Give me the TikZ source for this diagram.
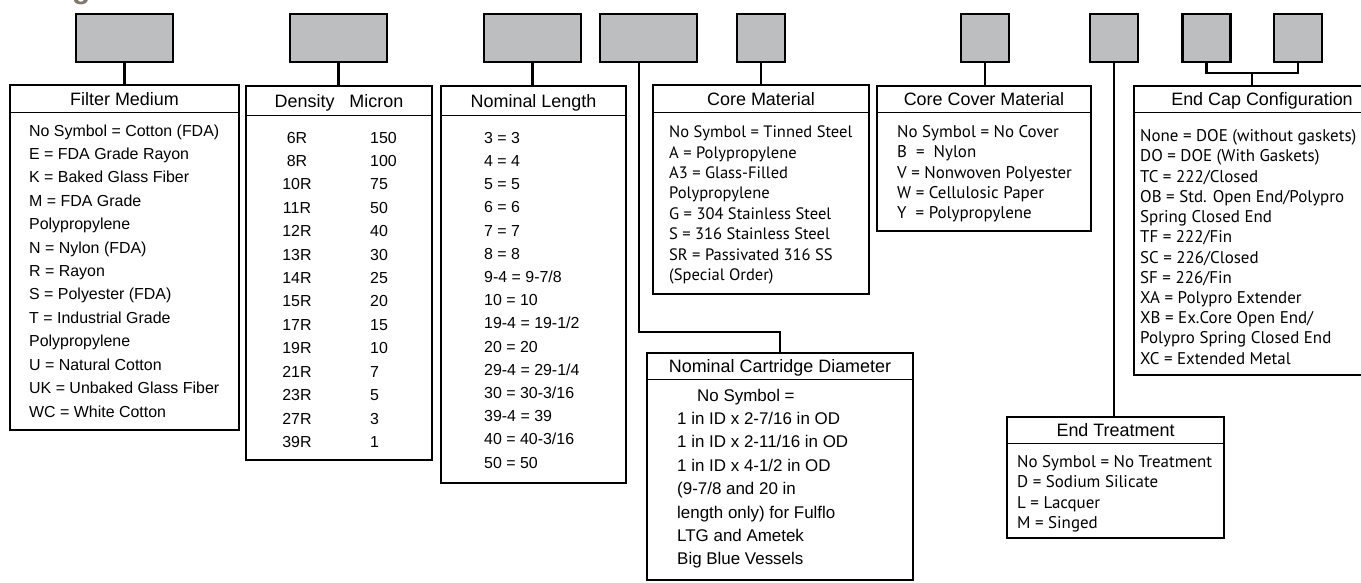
\documentclass[tikz,border=0pt]{standalone}
\usepackage{fontspec}
\setmainfont{Liberation Sans}
\newfontfamily\myriad{PT Sans}
\usetikzlibrary{calc}
\definecolor{codegray}{RGB}{188,190,192}
\definecolor{titlegray}{RGB}{128,118,106}

\begin{document}
\begin{tikzpicture}[x=1bp,y=-1bp]
    \tikzstyle{code}=[draw,line width=2.2bp,fill=codegray,minimum height=48bp,inner sep=0,outer sep=0]
    \tikzstyle{panel}=[draw,line width=2.2bp,anchor=north west,inner sep=0,outer sep=0]
    \tikzstyle{head}=[draw,line width=1bp,anchor=north west,inner sep=0,outer sep=0,font=\fontsize{18}{20}\selectfont,text height=13bp,text depth=0bp]
    \tikzstyle{list}=[anchor=north west,align=left,inner sep=0,font=\fontsize{16}{23.5}\selectfont]
    \tikzstyle{mlist}=[anchor=north west,align=left,inner sep=0,font=\myriad\fontsize{17}{20.4}\selectfont]
    \tikzstyle{wire}=[line width=2.2bp]

    \useasboundingbox (0,0) rectangle (1361,583);
    \clip (0,0) rectangle (1361,583);

    % cut-off heading
    \node (title) at (72,-1) [anchor=base west,inner sep=0,text=titlegray,font=\bfseries\fontsize{30}{30}\selectfont] {g};

    % code boxes
    \node (d1) at (124.5,38) [code,minimum width=97bp] {};
    \node (d2) at (338.5,38) [code,minimum width=97bp] {};
    \node (d3) at (532.5,38) [code,minimum width=97bp] {};
    \node (d4) at (648.5,38) [code,minimum width=97bp] {};
    \node (d5) at (761,38)   [code,minimum width=48bp] {};
    \node (d6) at (985,38)   [code,minimum width=48bp] {};
    \node (d7) at (1114,38)  [code,minimum width=48bp] {};
    \node (d8) at (1206.5,38) [code,minimum width=48bp] {};
    \node (d9) at (1298,38)  [code,minimum width=48bp] {};

    % filter medium
    \node (fm) at (10,85) [panel,minimum width=229bp,minimum height=345bp] {};
    \node (fmH) at (fm.north west) [head,minimum width=229bp,minimum height=28bp] {Filter Medium};
    \node (fmL) at (29,119.5) [list] {\strut No Symbol = Cotton (FDA)\\E = FDA Grade Rayon\\K = Baked Glass Fiber\\M = FDA Grade\\Polypropylene\\N = Nylon (FDA)\\R = Rayon\\S = Polyester (FDA)\\T = Industrial Grade\\Polypropylene\\U = Natural Cotton\\UK = Unbaked Glass Fiber\\WC = White Cotton};

    % density / micron
    \node (dm) at (246,86) [panel,minimum width=186bp,minimum height=374bp] {};
    \node (dmH) at (dm.north west) [head,minimum width=186bp,minimum height=30bp] {Density\hspace{15bp}Micron};
    \node (dmD) at (297,126.5) [list,anchor=north,align=center] {\strut 6R\\8R\\10R\\11R\\12R\\13R\\14R\\15R\\17R\\19R\\21R\\23R\\27R\\39R};
    \node (dmM) at (370,126.5) [list] {\strut 150\\100\\75\\50\\40\\30\\25\\20\\15\\10\\7\\5\\3\\1};

    % nominal length
    \node (nl) at (441,86) [panel,minimum width=185bp,minimum height=397bp] {};
    \node (nlH) at (nl.north west) [head,minimum width=185bp,minimum height=30bp] {Nominal Length};
    \node (nlL) at (484,126.7) [list,font=\fontsize{16}{23.3}\selectfont] {\strut 3 = 3\\4 = 4\\5 = 5\\6 = 6\\7 = 7\\8 = 8\\9-4 = 9-7/8\\10 = 10\\19-4 = 19-1/2\\20 = 20\\29-4 = 29-1/4\\30 = 30-3/16\\39-4 = 39\\40 = 40-3/16\\50 = 50};

    % nominal cartridge diameter
    \node (ncd) at (647,353) [panel,minimum width=266bp,minimum height=227bp] {};
    \node (ncdH) at (ncd.north west) [head,minimum width=266bp,minimum height=26bp] {Nominal Cartridge Diameter};
    \node (ncdL) at (677,384.5) [list,font=\fontsize{17}{23.5}\selectfont] {\strut\hspace*{20bp}No Symbol =\\1 in ID x 2-7/16 in OD\\1 in ID x 2-11/16 in OD\\1 in ID x 4-1/2 in OD\\(9-7/8 and 20 in\\length only) for Fulflo\\LTG and Ametek\\Big Blue Vessels};

    % core material
    \node (cm) at (653,85) [panel,minimum width=216bp,minimum height=209bp] {};
    \node (cmH) at (cm.north west) [head,minimum width=216bp,minimum height=28bp] {Core Material};
    \node (cmL) at (669,123.1) [mlist,font=\myriad\fontsize{16.6}{20.5}\selectfont] {\strut No Symbol = Tinned Steel\\A = Polypropylene\\A3 = Glass-Filled\\Polypropylene\\G = 304 Stainless Steel\\S = 316 Stainless Steel\\SR = Passivated 316 SS\\(Special Order)};

    % core cover material
    \node (cc) at (877,86) [panel,minimum width=214bp,minimum height=145bp] {};
    \node (ccH) at (cc.north west) [head,minimum width=214bp,minimum height=27bp] {Core Cover Material};
    \node (ccL) at (897,123.2) [mlist] {\strut No Symbol = No Cover\\B \ = \ Nylon\\V = Nonwoven Polyester\\W = Cellulosic Paper\\Y \ = Polypropylene};

    % end cap configuration
    \node (ec) at (1134,86) [panel,minimum width=256bp,minimum height=289bp] {};
    \node (ecH) at (ec.north west) [head,minimum width=256bp,minimum height=27bp] {End Cap Configuration};
    \node (ecL) at (1140,127.3) [mlist,font=\myriad\fontsize{17}{20.3}\selectfont] {\strut None = DOE (without gaskets)\\DO = DOE (With Gaskets)\\TC = 222/Closed\\OB = Std. Open End/Polypro\\Spring Closed End\\TF = 222/Fin\\SC = 226/Closed\\SF = 226/Fin\\XA = Polypro Extender\\XB = Ex.Core Open End/\\Polypro Spring Closed End\\XC = Extended Metal};

    % end treatment
    \node (et) at (1007,417) [panel,minimum width=217bp,minimum height=121bp] {};
    \node (etH) at (et.north west) [head,minimum width=217bp,minimum height=26bp] {End Treatment};
    \node (etL) at (1017,453.3) [mlist,font=\myriad\fontsize{17}{20.3}\selectfont] {\strut No Symbol = No Treatment\\D = Sodium Silicate\\L = Lacquer\\M = Singed};

    % connectors
    \draw[wire] (d1.south) -- (d1.south |- fm.north);
    \draw[wire] (d2.south) -- (d2.south |- dm.north);
    \draw[wire] (d3.south) -- (d3.south |- nl.north);
    \draw[wire] ([xshift=-9.5bp]d4.south) -- ++(0,270) -| (ncd.north);
    \draw[wire] (d5.south) -- (d5.south |- cm.north);
    \draw[wire] (d6.south) -- (d6.south |- cc.north);
    \draw[wire] (d7.south) -- (d7.south |- et.north);
    \coordinate (ecj) at (1252,73);
    \draw[wire] (d8.south) |- (ecj) -| (d9.south);
    \draw[wire] (ecj) -- (ecj |- ec.north);
\end{tikzpicture}
\end{document}
